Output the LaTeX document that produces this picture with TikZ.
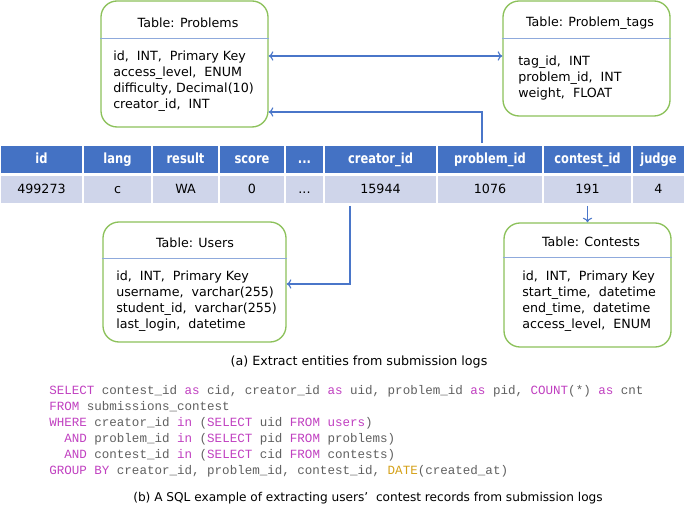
\documentclass[tikz,border=0pt]{standalone}
\usepackage{fontspec}
\usetikzlibrary{arrows.meta}
\setmainfont{DejaVu Sans}
\newfontfamily\hdrfont[FakeStretch=0.82]{DejaVu Sans}
\newfontfamily\sqlfont{Liberation Mono}
\definecolor{hdrblue}{HTML}{4472C4}
\definecolor{rowblue}{HTML}{CFD5EA}
\definecolor{boxgreen}{HTML}{8CC15A}
\definecolor{sepblue}{HTML}{8FAADC}
\definecolor{linkblue}{HTML}{4A76C9}
\definecolor{sqlkw}{HTML}{C040C0}
\definecolor{sqltext}{HTML}{606060}
\definecolor{sqlfn}{HTML}{D4A017}
\newcommand{\kw}[1]{\textcolor{sqlkw}{#1}}
\newcommand{\fn}[1]{\textcolor{sqlfn}{#1}}

\begin{document}
\begin{tikzpicture}[x=0.75pt,y=-0.75pt,>={To[length=3.5pt,width=7pt]},
  hcell/.style={draw=white,line width=2pt,fill=hdrblue,text=white,inner sep=0pt,
    text height=8pt,text depth=2pt,
    minimum height=22.5pt,minimum width=#1*0.75pt,font=\hdrfont\bfseries\fontsize{10.5pt}{12pt}\selectfont},
  rcell/.style={draw=white,line width=2pt,fill=rowblue,text=black,inner sep=0pt,
    text height=7.5pt,text depth=2pt,
    minimum height=22.5pt,minimum width=#1*0.75pt,font=\fontsize{9.5pt}{11pt}\selectfont},
  tablebox/.style={draw=boxgreen,line width=1pt,rounded corners=12pt,fill=white,inner sep=0pt},
  boxtitle/.style={inner sep=0pt,font=\fontsize{9.5pt}{12pt}\selectfont},
  boxbody/.style={anchor=west,align=left,inner sep=0pt,font=\fontsize{9.5pt}{12pt}\selectfont},
  sepline/.style={draw=sepblue,line width=0.6pt},
  link/.style={draw=linkblue,line width=0.8pt},
  caption/.style={inner sep=0pt,font=\fontsize{9.5pt}{12pt}\selectfont}]%
\useasboundingbox (0,0) rectangle (685,505);%
% submission log table
\node[hcell=83] (h1) at (41.5,159.5) {id};%
\node[hcell=69] (h2) at (117.5,159.5) {lang};%
\node[hcell=67] (h3) at (185.5,159.5) {result};%
\node[hcell=66] (h4) at (252,159.5) {score};%
\node[hcell=39] (h5) at (304.5,159.5) {...};%
\node[hcell=113] (h6) at (380.5,159.5) {creator\_id};%
\node[hcell=106] (h7) at (490,159.5) {problem\_id};%
\node[hcell=89] (h8) at (587.5,159.5) {contest\_id};%
\node[hcell=53] (h9) at (658.5,159.5) {judge};%
\node[rcell=83] (r1) at (41.5,189.5) {499273};%
\node[rcell=69] (r2) at (117.5,189.5) {c};%
\node[rcell=67] (r3) at (185.5,189.5) {WA};%
\node[rcell=66] (r4) at (252,189.5) {0};%
\node[rcell=39] (r5) at (304.5,189.5) {...};%
\node[rcell=113] (r6) at (380.5,189.5) {15944};%
\node[rcell=106] (r7) at (490,189.5) {1076};%
\node[rcell=89] (r8) at (587.5,189.5) {191};%
\node[rcell=53] (r9) at (658.5,189.5) {4};%
% entity tables
\node[tablebox,minimum width=125.25pt,minimum height=94.5pt] (probs) at (184.5,64) {};%
\node[boxtitle] (probsT) at (188,23) {Table: Problems};%
\draw[sepline] ([yshift=-28.5pt]probs.north west) -- ([yshift=-28.5pt]probs.north east);%
\node[boxbody] (probsB) at (113,81.5) {id,\ \ INT,\ \ Primary Key\\access\_level,\ \ ENUM\\difficulty, Decimal(10)\\creator\_id,\ \ INT};%
\node[tablebox,minimum width=125.25pt,minimum height=86.25pt] (tags) at (586.5,58.5) {};%
\node[boxtitle] (tagsT) at (590,23) {Table: Problem\_tags};%
\draw[sepline] ([yshift=-28.5pt]tags.north west) -- ([yshift=-28.5pt]tags.north east);%
\node[boxbody] (tagsB) at (518,78) {tag\_id,\ \ INT\\problem\_id,\ \ INT\\weight,\ \ FLOAT};%
\node[tablebox,minimum width=137.25pt,minimum height=90pt] (users) at (194.5,282) {};%
\node[boxtitle] (usersT) at (195,243) {Table: Users};%
\draw[sepline] ([yshift=-27.75pt]users.north west) -- ([yshift=-27.75pt]users.north east);%
\node[boxbody] (usersB) at (116,301.5) {id,\ \ INT,\ \ Primary Key\\username,\ \ varchar(255)\\student\_id,\ \ varchar(255)\\last\_login,\ \ datetime};%
\node[tablebox,minimum width=125.25pt,minimum height=93pt] (cont) at (587.5,285) {};%
\node[boxtitle] (contT) at (591,242) {Table: Contests};%
\draw[sepline] ([yshift=-26.25pt]cont.north west) -- ([yshift=-26.25pt]cont.north east);%
\node[boxbody] (contB) at (522,301.5) {id,\ \ INT,\ \ Primary Key\\start\_time,\ \ datetime\\end\_time,\ \ datetime\\access\_level,\ \ ENUM};%
% links
\draw[link,<->] ([yshift=6pt]probs.east) -- ([yshift=1.875pt]tags.west);%
\draw[link,->] ([xshift=-6pt]h7.north) |- ([yshift=-36pt]probs.east);%
\draw[link,->] ([xshift=-22.875pt]r6.south) |- ([yshift=-1.5pt]users.east);%
\draw[link,->] (r8.south) -- (cont.north);%
\node[caption] (capA) at (359,362) {(a) Extract entities from submission logs};%
% sql query
\node[anchor=west,align=left,inner sep=0pt,text=sqltext,font=\sqlfont\fontsize{9.4pt}{12pt}\selectfont\frenchspacing] (sql) at (49,431) {%
\kw{SELECT} contest\_id \kw{as} cid, creator\_id \kw{as} uid, problem\_id \kw{as} pid, \kw{COUNT}(*) \kw{as} cnt\\
\kw{FROM} submissions\_contest\\
\kw{WHERE} creator\_id \kw{in} (\kw{SELECT} uid \kw{FROM} \kw{users})\\
\hspace*{1.2em}\kw{AND} problem\_id \kw{in} (\kw{SELECT} pid \kw{FROM} problems)\\
\hspace*{1.2em}\kw{AND} contest\_id \kw{in} (\kw{SELECT} cid \kw{FROM} contests)\\
\kw{GROUP BY} creator\_id, problem\_id, contest\_id, \fn{DATE}(created\_at)};%
\node[caption,font=\fontsize{9.1pt}{12pt}\selectfont] (capB) at (368,498) {(b) A SQL example of extracting users'\ \ contest records from submission logs};%
\end{tikzpicture}
\end{document}
